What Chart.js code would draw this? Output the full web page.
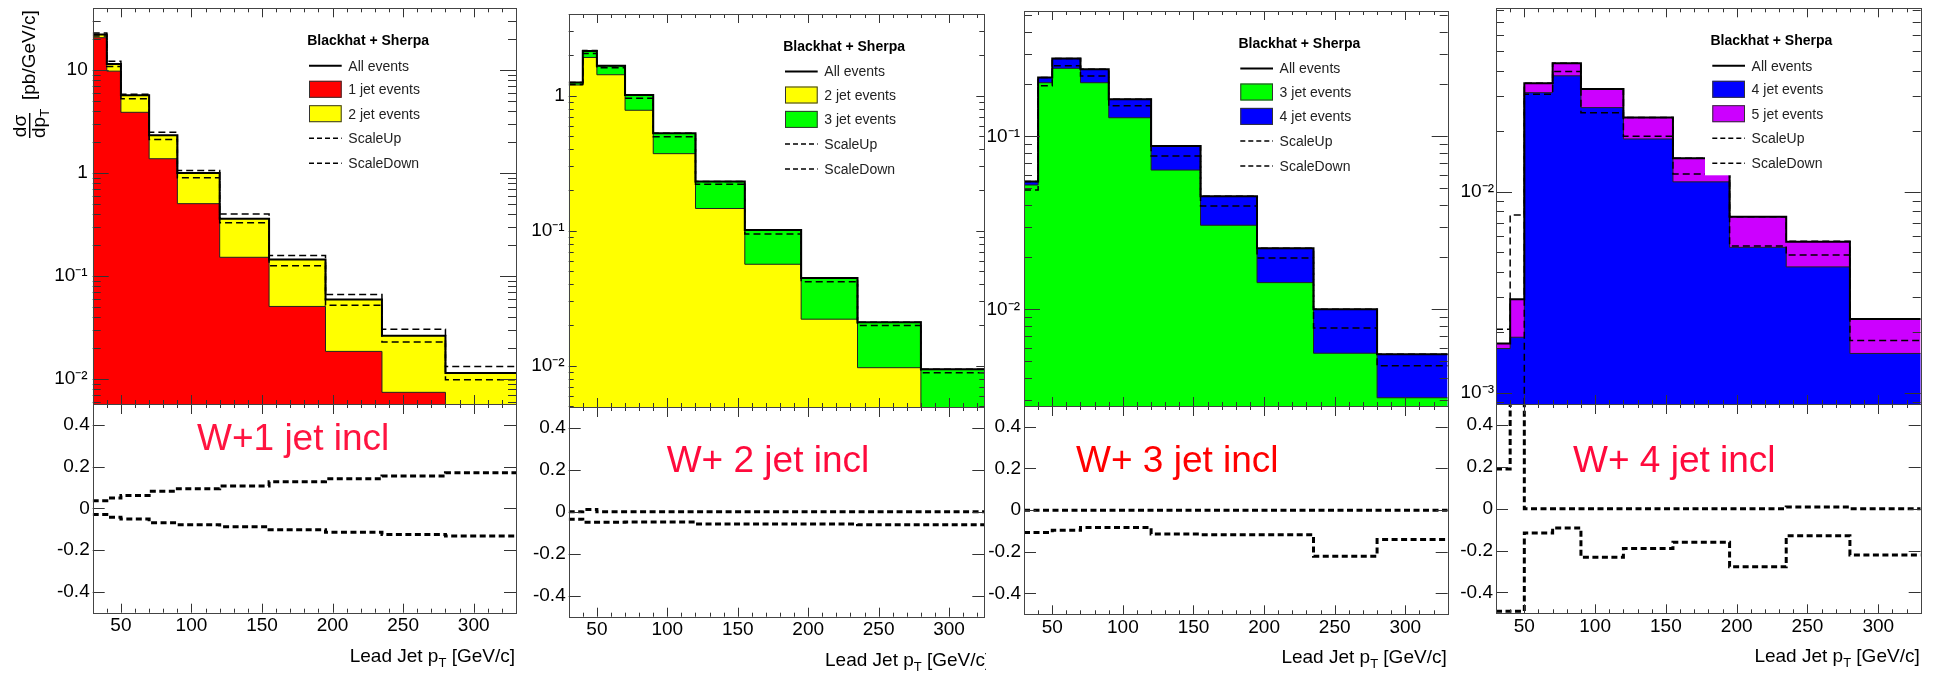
<!DOCTYPE html>
<html>
<head>
<meta charset="utf-8">
<title>Lead jet pT, W + n jets, Blackhat + Sherpa</title>
<script src="https://cdn.jsdelivr.net/npm/chart.js@4.4.1/dist/chart.umd.min.js"></script>
<style>
  html, body { margin: 0; padding: 0; background: #fff; }
  body { position: relative; width: 1942px; height: 676px; overflow: hidden; }
  canvas { position: absolute; }
</style>
</head>
<body>
<script>
const FONT = '"Liberation Sans", Arial, Helvetica, sans-serif';

// bin edges shared by all four samples (GeV/c), last edge closes the last bin
const binEdges = [30, 40, 50, 70, 90, 120, 155, 195, 235, 280, 330];
const xTickVals = [50, 100, 150, 200, 250, 300];
const ratioTickVals = [-0.4, -0.2, 0, 0.2, 0.4];

// W + 1 jet inclusive  (pb/GeV/c)
const w1Decades   = [0.01, 0.1, 1, 10];
const w1All       = [22.2, 11.5, 5.7, 2.33, 1.0, 0.36, 0.145, 0.059, 0.0262, 0.0114];
const w1Jet1      = [20.7, 9.8, 3.9, 1.38, 0.505, 0.152, 0.0506, 0.0185, 0.0074, 0.0001];
const w1Up        = [23.0, 12.2, 5.85, 2.49, 1.06, 0.40, 0.158, 0.066, 0.0303, 0.0132];
const w1Down      = [21.5, 10.9, 5.27, 2.12, 0.90, 0.33, 0.126, 0.052, 0.0228, 0.0098];
const w1RatioUp   = [0.037, 0.05, 0.062, 0.082, 0.094, 0.107, 0.128, 0.142, 0.155, 0.17];
const w1RatioDown = [-0.03, -0.043, -0.051, -0.069, -0.078, -0.088, -0.102, -0.115, -0.125, -0.133];

// W + 2 jet inclusive
const w2Decades   = [0.01, 0.1, 1];
const w2All       = [1.25, 2.14, 1.67, 1.01, 0.526, 0.231, 0.101, 0.0446, 0.021, 0.0094];
const w2Jet2      = [1.2, 1.92, 1.43, 0.78, 0.372, 0.146, 0.0564, 0.0221, 0.00966, 0.0001];
const w2Up        = [1.25, 2.16, 1.67, 1.01, 0.526, 0.231, 0.101, 0.0446, 0.021, 0.0094];
const w2Down      = [1.21, 2.05, 1.61, 0.957, 0.497, 0.221, 0.0946, 0.0419, 0.0198, 0.00887];
const w2RatioUp   = [0.0, 0.011, 0.0, 0.0, 0.0, 0.0, 0.0, 0.0, 0.0, 0.0];
const w2RatioDown = [-0.035, -0.05, -0.05, -0.048, -0.048, -0.058, -0.058, -0.058, -0.062, -0.062];

// W + 3 jet inclusive
const w3Decades   = [0.01, 0.1];
const w3All       = [0.0547, 0.219, 0.282, 0.244, 0.164, 0.0879, 0.045, 0.0225, 0.0100, 0.0055];
const w3Jet3      = [0.0523, 0.204, 0.247, 0.204, 0.128, 0.0638, 0.0306, 0.01426, 0.00557, 0.00308];
const w3Up        = [0.0547, 0.219, 0.282, 0.244, 0.164, 0.0879, 0.045, 0.0225, 0.0100, 0.0055];
const w3Down      = [0.049, 0.196, 0.256, 0.223, 0.150, 0.0769, 0.0395, 0.0198, 0.0078, 0.00472];
const w3RatioUp   = [0.0, 0.0, 0.0, 0.0, 0.0, 0.0, 0.0, 0.0, 0.0, 0.0];
const w3RatioDown = [-0.107, -0.107, -0.096, -0.083, -0.083, -0.115, -0.118, -0.118, -0.221, -0.141];

// W + 4 jet inclusive
const w4Decades   = [0.001, 0.01];
const w4All       = [0.00176, 0.00292, 0.0346, 0.0435, 0.0324, 0.0234, 0.01466, 0.0075, 0.00564, 0.00233];
const w4Jet4      = [0.00166, 0.00189, 0.0311, 0.0377, 0.0262, 0.0183, 0.0112, 0.00529, 0.00423, 0.00157];
const w4Up        = [0.00207, 0.00766, 0.0346, 0.0435, 0.0324, 0.0234, 0.01466, 0.0075, 0.00568, 0.00233];
const w4Down      = [0.0005, 0.0005, 0.0305, 0.0396, 0.0247, 0.0189, 0.01225, 0.00538, 0.00484, 0.00182];
const w4RatioUp   = [0.19, 1.6, 0.0, 0.0, 0.0, 0.0, 0.0, 0.0, 0.008, 0.0];
const w4RatioDown = [-0.49, -0.49, -0.116, -0.092, -0.232, -0.19, -0.16, -0.278, -0.13, -0.222];

const panels = [
  { tag: 'W+1 jet incl',  tagColor: '#ff1440', all: w1All, low: w1Jet1, up: w1Up, down: w1Down, rUp: w1RatioUp, rDown: w1RatioDown,
    lowName: '1 jet events', highName: '2 jet events', lowColor: '#ff0000', highColor: '#ffff00', decades: w1Decades },
  { tag: 'W+ 2 jet incl', tagColor: '#ff0a3c', all: w2All, low: w2Jet2, up: w2Up, down: w2Down, rUp: w2RatioUp, rDown: w2RatioDown,
    lowName: '2 jet events', highName: '3 jet events', lowColor: '#ffff00', highColor: '#00ff00', decades: w2Decades },
  { tag: 'W+ 3 jet incl', tagColor: '#ff0000', all: w3All, low: w3Jet3, up: w3Up, down: w3Down, rUp: w3RatioUp, rDown: w3RatioDown,
    lowName: '3 jet events', highName: '4 jet events', lowColor: '#00ff00', highColor: '#0000ff', decades: w3Decades },
  { tag: 'W+ 4 jet incl', tagColor: '#ff0a3c', all: w4All, low: w4Jet4, up: w4Up, down: w4Down, rUp: w4RatioUp, rDown: w4RatioDown,
    lowName: '4 jet events', highName: '5 jet events', lowColor: '#0000ff', highColor: '#cc00ff', decades: w4Decades },
];

// where each pad sits on the page
const geo = [
  { cl: 0,    cw: 527, fL: 92.7,  fR: 516,    fT: 8.3, fM: 404, fB: 612.7, xMax: 330, yMin: 0.0057,  yMax: 40,     lpad: 5, logTk: [16, 8], tagX: 104.3, tagY: 46 },
  { cl: 527,  cw: 459, fL: 568.7, fR: 984.3,  fT: 14,  fM: 407, fB: 616.7, xMax: 325, yMin: 0.00494, yMax: 4.03,   lpad: 4, logTk: [8, 5],  tagX: 98,    tagY: 64.7 },
  { cl: 984,  cw: 471, fL: 1024,  fR: 1447.7, fT: 11,  fM: 406, fB: 614.3, xMax: 330, yMin: 0.00276, yMax: 0.53,   lpad: 4, logTk: [16, 8], tagX: 52,    tagY: 65.7 },
  { cl: 1455, cw: 487, fL: 1496,  fR: 1920.7, fT: 8.3, fM: 404, fB: 613.3, xMax: 330, yMin: 0.00088, yMax: 0.0817, lpad: 2, logTk: [16, 8], tagX: 77,    tagY: 67.7 },
];

const SUP = { '-': '\u207b', '0': '\u2070', '1': '\u00b9', '2': '\u00b2', '3': '\u00b3' };
function logLabel(v) {
  const k = Math.round(Math.log10(v));
  if (k === 0) return '1';
  if (k === 1) return '10';
  return '10' + String(k).split('').map(c => SUP[c]).join('');
}

function steps(vals) {
  return binEdges.map((e, i) => ({ x: e, y: vals[Math.min(i, vals.length - 1)] }));
}

function hist(label, vals, extra) {
  return Object.assign({ label, data: steps(vals), stepped: true, pointRadius: 0, fill: false, borderColor: '#000' }, extra);
}

function drawLegend(ctx, a, items) {
  const x0 = a.left + 216.3, x1 = a.left + 249, tx = a.left + 255.6;
  const rows = [57.4, 81, 105.4, 130, 155];
  ctx.fillStyle = '#fff';
  ctx.fillRect(a.left + 209, a.top + 14, 176, 153);
  ctx.textAlign = 'left';
  ctx.textBaseline = 'middle';
  ctx.fillStyle = '#000';
  ctx.font = 'bold 14px ' + FONT;
  ctx.fillText('Blackhat + Sherpa', a.left + 214.5, a.top + 33);
  ctx.font = '14px ' + FONT;
  items.forEach((it, i) => {
    const y = a.top + rows[i];
    if (it.kind === 'box') {
      ctx.fillStyle = it.color;
      ctx.fillRect(x0, y - 8.5, x1 - x0, 17);
      ctx.strokeStyle = '#333';
      ctx.lineWidth = 1;
      ctx.strokeRect(x0 + 0.5, y - 8, x1 - x0 - 1, 16);
    } else {
      ctx.strokeStyle = '#000';
      ctx.lineWidth = it.kind === 'dash' ? 1.5 : 2;
      ctx.setLineDash(it.kind === 'dash' ? [5, 3] : []);
      ctx.beginPath();
      ctx.moveTo(x0, y);
      ctx.lineTo(x1, y);
      ctx.stroke();
      ctx.setLineDash([]);
    }
    ctx.fillStyle = '#222';
    ctx.fillText(it.text, tx, y + 1);
  });
}

function drawXTitle(ctx, xRight, yBase) {
  const a = 'Lead Jet p', b = ' [GeV/c]';
  ctx.font = '13px ' + FONT;
  const wT = ctx.measureText('T').width;
  ctx.font = '19px ' + FONT;
  const wa = ctx.measureText(a).width, wb = ctx.measureText(b).width;
  const x0 = xRight - wa - wT - wb;
  ctx.fillStyle = '#000';
  ctx.textAlign = 'left';
  ctx.textBaseline = 'alphabetic';
  ctx.fillText(a, x0, yBase);
  ctx.fillText(b, x0 + wa + wT, yBase);
  ctx.font = '13px ' + FONT;
  ctx.fillText('T', x0 + wa, yBase + 5);
}

function drawYTitle(ctx) {
  ctx.save();
  ctx.rotate(-Math.PI / 2);
  ctx.fillStyle = '#000';
  ctx.textBaseline = 'alphabetic';
  ctx.font = '19px ' + FONT;
  ctx.textAlign = 'left';
  ctx.fillText('[pb/GeV/c]', -100, 35);
  ctx.textAlign = 'center';
  ctx.fillText('d\u03c3', -126, 26);
  ctx.fillRect(-138, 29, 25, 1.4);
  ctx.textAlign = 'left';
  ctx.fillText('dp', -138, 45);
  const wdp = ctx.measureText('dp').width;
  ctx.font = '13px ' + FONT;
  ctx.fillText('T', -138 + wdp, 49);
  ctx.restore();
}

// ROOT-like pad: frame, inward ticks on all four sides, legend and labels.
// Built per chart so the settings stay plain objects (not option proxies).
function rootPad(o) {
  return {
    id: 'rootPad',
    afterDatasetsDraw(chart) {
      const ctx = chart.ctx, a = chart.chartArea, xs = chart.scales.x, ys = chart.scales.y;
      ctx.save();
      if (o.legend) drawLegend(ctx, a, o.legend);

      ctx.strokeStyle = '#333';
      ctx.lineWidth = 1;
      ctx.beginPath();
      for (let v = 40; v < xs.max; v += 10) {
        const px = Math.round(xs.getPixelForValue(v)) + 0.5;
        const major = v % 50 === 0;
        const lb = major ? o.xb[0] : o.xb[1];
        const lt = major ? o.xt[0] : o.xt[1];
        ctx.moveTo(px, a.bottom); ctx.lineTo(px, a.bottom - lb);
        ctx.moveTo(px, a.top); ctx.lineTo(px, a.top + lt);
      }
      const yt = [];
      if (ys.type === 'logarithmic') {
        for (let k = Math.floor(Math.log10(ys.min)); k <= Math.ceil(Math.log10(ys.max)); k++) {
          for (let m = 1; m <= 9; m++) {
            const v = m * Math.pow(10, k);
            if (v > ys.min && v < ys.max) yt.push([v, m === 1 ? o.yl[0] : o.yl[1]]);
          }
        }
      } else {
        ys.ticks.forEach(t => yt.push([t.value, o.yl[0]]));
      }
      yt.forEach(([v, len]) => {
        const py = Math.round(ys.getPixelForValue(v)) + 0.5;
        ctx.moveTo(a.left, py); ctx.lineTo(a.left + len, py);
        ctx.moveTo(a.right, py); ctx.lineTo(a.right - len, py);
      });
      ctx.stroke();

      ctx.strokeStyle = '#444';
      const l = Math.round(a.left) + 0.5, t = Math.round(a.top) + 0.5;
      ctx.strokeRect(l, t, Math.round(a.right) - Math.round(a.left), Math.round(a.bottom) - Math.round(a.top));

      if (o.tag) {
        ctx.fillStyle = o.tag.color;
        ctx.font = '37px ' + FONT;
        ctx.textAlign = 'left';
        ctx.textBaseline = 'alphabetic';
        ctx.fillText(o.tag.text, a.left + o.tag.x, a.top + o.tag.y);
      }
      if (o.xTitle) drawXTitle(ctx, xs.getPixelForValue(330) - 1, a.bottom + 49);
      if (o.yTitle) drawYTitle(ctx);
      ctx.restore();
    }
  };
}

const tickFont = { family: FONT, size: 19 };

function addCanvas(left, top, w, h) {
  const cv = document.createElement('canvas');
  cv.width = w;
  cv.height = h;
  cv.style.left = left + 'px';
  cv.style.top = top + 'px';
  document.body.appendChild(cv);
  return cv;
}

function makeTop(p, g, withYTitle) {
  const h = Math.ceil(g.fM) + 2;
  const cv = addCanvas(g.cl, 0, g.cw, h);
  new Chart(cv, {
    type: 'line',
    data: {
      datasets: [
        hist('All events', p.all, { borderWidth: 2, order: 0 }),
        hist('ScaleUp', p.up, { borderWidth: 1.5, borderDash: [7, 4], order: 1 }),
        hist('ScaleDown', p.down, { borderWidth: 1.5, borderDash: [7, 4], order: 2 }),
        hist(p.lowName, p.low, { borderColor: '#222', borderWidth: 1, backgroundColor: p.lowColor, fill: 'start', order: 3 }),
        hist(p.highName, p.all, { borderColor: 'rgba(0,0,0,0)', borderWidth: 1, backgroundColor: p.highColor, fill: 'start', order: 4 }),
      ]
    },
    options: {
      responsive: false,
      animation: false,
      events: [],
      layout: { padding: { left: 0, top: g.fT, right: g.cl + g.cw - g.fR, bottom: h - g.fM } },
      plugins: { legend: { display: false }, tooltip: { enabled: false } },
      scales: {
        x: { type: 'linear', display: false, min: 30, max: g.xMax },
        y: {
          type: 'logarithmic', min: g.yMin, max: g.yMax,
          afterBuildTicks: s => { s.ticks = p.decades.map(v => ({ value: v })); },
          afterFit: s => { s.width = g.fL - g.cl; s.paddingTop = 0; s.paddingBottom = 0; },
          grid: { display: false, drawTicks: false },
          border: { display: false },
          ticks: { callback: logLabel, padding: g.lpad, color: '#000', font: tickFont, autoSkip: false }
        }
      }
    },
    plugins: [rootPad({
      xb: [9, 4], xt: [9, 4], yl: g.logTk, yTitle: withYTitle,
      legend: [
        { text: 'All events', kind: 'line' },
        { text: p.lowName, kind: 'box', color: p.lowColor },
        { text: p.highName, kind: 'box', color: p.highColor },
        { text: 'ScaleUp', kind: 'dash' },
        { text: 'ScaleDown', kind: 'dash' },
      ]
    })]
  });
}

function makeRatio(p, g) {
  const t2 = Math.floor(g.fM) - 3;
  const h = 676 - t2;
  const cv = addCanvas(g.cl, t2, g.cw, h);
  new Chart(cv, {
    type: 'line',
    data: {
      datasets: [
        hist('ScaleUp / All', p.rUp, { borderWidth: 3, borderDash: [6, 3.5] }),
        hist('ScaleDown / All', p.rDown, { borderWidth: 3, borderDash: [6, 3.5] }),
      ]
    },
    options: {
      responsive: false,
      animation: false,
      events: [],
      layout: { padding: { left: 0, top: g.fM - t2, right: g.cl + g.cw - g.fR, bottom: 0 } },
      plugins: { legend: { display: false }, tooltip: { enabled: false } },
      scales: {
        x: {
          type: 'linear', min: 30, max: g.xMax,
          afterBuildTicks: s => { s.ticks = xTickVals.map(v => ({ value: v })); },
          afterFit: s => { s.height = 676 - g.fB; s.paddingLeft = 0; s.paddingRight = 0; },
          grid: { display: false, drawTicks: false },
          border: { display: false },
          ticks: { padding: 2, autoSkip: false, maxRotation: 0, color: '#000', font: tickFont, callback: v => String(v) }
        },
        y: {
          type: 'linear', min: -0.5, max: 0.5,
          afterBuildTicks: s => { s.ticks = ratioTickVals.map(v => ({ value: v })); },
          afterFit: s => { s.width = g.fL - g.cl; s.paddingTop = 0; s.paddingBottom = 0; },
          grid: { display: false, drawTicks: false },
          border: { display: false },
          ticks: { padding: 3, autoSkip: false, color: '#000', font: tickFont, callback: v => (v === 0 ? '0' : v.toFixed(1)) }
        }
      }
    },
    plugins: [rootPad({
      xb: [9, 4], xt: [10, 4], yl: [12],
      tag: { text: p.tag, color: p.tagColor, x: g.tagX, y: g.tagY },
      xTitle: true
    })]
  });
}

panels.forEach((p, i) => {
  makeTop(p, geo[i], i === 0);
  makeRatio(p, geo[i]);
});
</script>
</body>
</html>
